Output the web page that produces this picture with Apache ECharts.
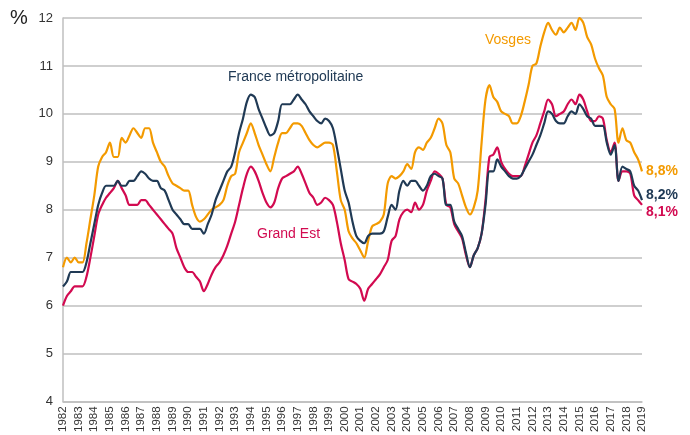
<!DOCTYPE html>
<html>
<head>
<meta charset="utf-8">
<script src="https://cdn.jsdelivr.net/npm/echarts@6/dist/echarts.min.js"></script>
<style>
  html, body { margin: 0; padding: 0; background: #fff; }
  #chart { width: 690px; height: 435px; }
</style>
</head>
<body>
<div id="chart"></div>
<script>
// années affichées sur l'axe (une étiquette par T1)
const years = [1982, 1983, 1984, 1985, 1986, 1987, 1988, 1989, 1990, 1991, 1992, 1993,
  1994, 1995, 1996, 1997, 1998, 1999, 2000, 2001, 2002, 2003, 2004, 2005, 2006, 2007,
  2008, 2009, 2010, 2011, 2012, 2013, 2014, 2015, 2016, 2017, 2018, 2019];

// taux de chômage trimestriels (%), 1982T1 -> 2019T1
const vosges = [
  6.8, 7.0, 6.9, 7.0,   6.9, 6.9, 7.3, 7.8,   8.3, 8.9, 9.1, 9.2,   9.4, 9.1, 9.1, 9.5,
  9.4, 9.55, 9.7, 9.6,  9.5, 9.7, 9.7, 9.4,   9.2, 9.0, 8.9, 8.7,   8.55, 8.5, 8.45, 8.4,
  8.4, 8.1, 7.85, 7.75, 7.8, 7.9, 8.0, 8.05,  8.1, 8.2, 8.5, 8.7,   8.75, 9.2, 9.4, 9.6,
  9.8, 9.6, 9.35, 9.15, 8.95, 8.8, 9.1, 9.4,  9.6, 9.6, 9.7, 9.8,  9.8, 9.75, 9.6, 9.45,
  9.35, 9.3, 9.35, 9.4, 9.4, 9.35, 8.8, 8.2,  8.0, 7.55, 7.4, 7.3,  7.15, 7.0, 7.35, 7.65,
  7.7, 7.75, 7.9, 8.55, 8.7, 8.65, 8.7, 8.8,  8.95, 8.85, 9.2, 9.3, 9.25, 9.4, 9.5, 9.7,
  9.9, 9.8, 9.35, 9.2, 8.65, 8.55, 8.3, 8.05, 7.9, 8.05, 8.4, 9.4,  10.3, 10.6, 10.35, 10.25,
  10.05, 10.0, 9.95, 9.8, 9.8, 9.95, 10.25, 10.6, 11.0, 11.05, 11.4, 11.7,
  11.9, 11.75, 11.65, 11.8, 11.7, 11.8, 11.9, 11.75, 12.0, 11.9, 11.6, 11.45,
  11.15, 10.95, 10.8, 10.35, 10.2, 10.1, 9.4, 9.7, 9.45, 9.4, 9.2, 9.05,
  8.8
];
const france = [
  6.4, 6.5, 6.7, 6.7,   6.7, 6.7, 6.9, 7.3,   7.7, 8.1, 8.35, 8.5,  8.5, 8.5, 8.6, 8.5,
  8.5, 8.6, 8.6, 8.7,   8.8, 8.75, 8.65, 8.6, 8.6, 8.45, 8.4, 8.2,  8.0, 7.9, 7.8, 7.7,
  7.7, 7.6, 7.6, 7.6,   7.5, 7.7, 7.9, 8.2,   8.4, 8.6, 8.8, 8.9,   9.2, 9.6, 9.9, 10.25,
  10.4, 10.35, 10.1, 9.9, 9.7, 9.55, 9.6, 9.85, 10.2, 10.2, 10.2, 10.3, 10.4, 10.3, 10.2, 10.05,
  9.95, 9.85, 9.8, 9.9, 9.85, 9.7, 9.3, 8.85,  8.4, 8.15, 7.75, 7.45,  7.35, 7.3, 7.45, 7.5,
  7.5, 7.5, 7.55, 7.85, 8.1, 8.0, 8.4, 8.6,   8.5, 8.6, 8.6, 8.5,   8.4, 8.5, 8.7, 8.75,
  8.7, 8.65, 8.1, 8.1,  7.75, 7.6, 7.45, 7.1,  6.8, 7.05, 7.2, 7.5,  8.1, 8.8, 8.8, 9.05,
  8.9, 8.8, 8.7, 8.65,  8.65, 8.7, 8.85, 9.0,  9.15, 9.35, 9.55, 9.8, 10.05, 10.0, 9.85, 9.8,
  9.8, 9.95, 10.05, 10.0, 10.2, 10.1, 9.95, 9.9, 9.75, 9.75, 9.75, 9.4, 9.15, 9.35, 8.6, 8.9,
  8.85, 8.8, 8.5, 8.4,
  8.2
];
const grandEst = [
  6.0, 6.2, 6.3, 6.4,   6.4, 6.4, 6.6, 7.0,   7.45, 7.9, 8.1, 8.25, 8.35, 8.45, 8.6, 8.45,
  8.3, 8.1, 8.1, 8.1,   8.2, 8.2, 8.1, 8.0,   7.9, 7.8, 7.7, 7.6,   7.5, 7.2, 7.0, 6.8,
  6.7, 6.7, 6.6, 6.5,   6.3, 6.45, 6.65, 6.8, 6.9, 7.05, 7.25, 7.5, 7.75, 8.1, 8.45, 8.75,
  8.9, 8.8, 8.6, 8.35,  8.15, 8.05, 8.15, 8.45, 8.65, 8.7, 8.75, 8.8, 8.9, 8.75, 8.55, 8.35,
  8.25, 8.1, 8.15, 8.25, 8.2, 8.1, 7.75, 7.3, 6.95, 6.55, 6.5, 6.45, 6.35, 6.1, 6.35, 6.45,
  6.55, 6.65, 6.8, 6.95, 7.35, 7.45, 7.8, 7.95, 8.0, 7.95, 8.15, 8.0, 8.1, 8.4, 8.6, 8.8,
  8.75, 8.65, 8.1, 8.05, 7.7, 7.55, 7.4, 7.05, 6.8, 7.05, 7.2, 7.5,  8.2, 9.1, 9.15, 9.3,
  9.0, 8.85, 8.75, 8.7, 8.7, 8.7, 8.9, 9.15,  9.4, 9.55, 9.8, 10.05, 10.3, 10.2, 9.95, 10.0,
  10.05, 10.2, 10.3, 10.2, 10.4, 10.3, 10.05, 9.85, 9.85, 9.95, 9.9, 9.45, 9.2, 9.4, 8.6, 8.8,
  8.8, 8.75, 8.3, 8.2,
  8.1
];

const colVosges = '#f39a00';
const colFrance = '#203a55';
const colGrandEst = '#d20a50';

// une catégorie par trimestre, étiquette = année au T1
const quarters = [];
years.forEach(function (y) {
  for (let q = 1; q <= 4; q++) {
    if (y === 2019 && q > 1) break;
    quarters.push(y + 'T' + q);
  }
});

const fmtEnd = function (p) {
  return p.value.toFixed(1).replace('.', ',') + '%';
};

const chart = echarts.init(document.getElementById('chart'), null, { renderer: 'canvas' });

const option = {
  animation: false,
  textStyle: { fontFamily: 'Liberation Sans, Arial, sans-serif' },
  grid: { left: 63, right: 48, top: 18, bottom: 32 },
  xAxis: {
    type: 'category',
    data: quarters,
    boundaryGap: false,
    axisLine: { lineStyle: { color: '#bfbfbf', width: 1.5 } },
    axisTick: { show: false },
    axisLabel: {
      interval: 3,
      rotate: 90,
      margin: 5,
      fontSize: 11.5,
      color: '#333',
      formatter: function (v) { return v.slice(0, 4); }
    },
    splitLine: { show: false }
  },
  yAxis: {
    type: 'value',
    min: 4,
    max: 12,
    interval: 1,
    axisLine: { show: true, lineStyle: { color: '#bfbfbf', width: 1.5 } },
    axisTick: { show: false },
    axisLabel: { fontSize: 13, color: '#333', margin: 10 },
    splitLine: { lineStyle: { color: '#bfbfbf', width: 1.5 } }
  },
  series: [
    {
      name: 'Vosges',
      type: 'line',
      data: vosges,
      showSymbol: false,
      smooth: 0.3,
      lineStyle: { color: colVosges, width: 2.2 },
      endLabel: {
        show: true, formatter: fmtEnd, color: colVosges,
        fontSize: 14, fontWeight: 'bold', distance: 4, offset: [0, 0]
      }
    },
    {
      name: 'France métropolitaine',
      type: 'line',
      data: france,
      showSymbol: false,
      smooth: 0.3,
      z: 3,
      lineStyle: { color: colFrance, width: 2.2 },
      endLabel: {
        show: true, formatter: fmtEnd, color: colFrance,
        fontSize: 14, fontWeight: 'bold', distance: 4, offset: [0, -5]
      }
    },
    {
      name: 'Grand Est',
      type: 'line',
      data: grandEst,
      showSymbol: false,
      smooth: 0.3,
      z: 2,
      lineStyle: { color: colGrandEst, width: 2.2 },
      endLabel: {
        show: true, formatter: fmtEnd, color: colGrandEst,
        fontSize: 14, fontWeight: 'bold', distance: 4, offset: [0, 7]
      }
    }
  ],
  graphic: [
    { type: 'text', left: 10, top: 8, style: { text: '%', fontSize: 20, fill: '#222', fontFamily: 'Liberation Sans' } },
    { type: 'text', left: 228, top: 70, style: { text: 'France métropolitaine', fontSize: 14, fill: colFrance, fontFamily: 'Liberation Sans' } },
    { type: 'text', left: 485, top: 33, style: { text: 'Vosges', fontSize: 14, fill: colVosges, fontFamily: 'Liberation Sans' } },
    { type: 'text', left: 257, top: 227, style: { text: 'Grand Est', fontSize: 14, fill: colGrandEst, fontFamily: 'Liberation Sans' } }
  ]
};

chart.setOption(option);
</script>
</body>
</html>
